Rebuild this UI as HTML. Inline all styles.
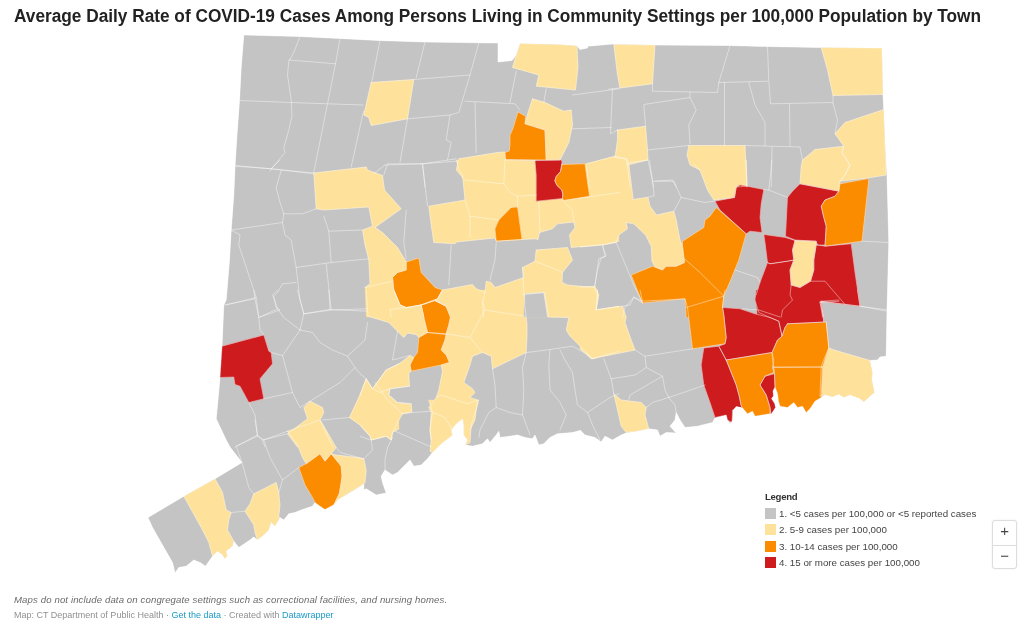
<!DOCTYPE html>
<html><head><meta charset="utf-8">
<style>
html,body{margin:0;padding:0;background:#fff;}
body{width:1036px;height:628px;position:relative;overflow:hidden;font-family:"Liberation Sans",sans-serif;color:#333;}
h1{position:absolute;left:14px;top:4.5px;margin:0;font-size:17.6px;font-weight:bold;color:#222;white-space:nowrap;letter-spacing:0;line-height:22px;transform-origin:0 0;transform:scaleX(0.980);}
svg#map{position:absolute;left:0;top:0;}
.legend{position:absolute;left:765px;top:490.5px;font-size:9.75px;color:#444;}
.legend .t{font-weight:bold;color:#333;font-size:9.6px;letter-spacing:-0.3px;line-height:12px;margin-bottom:3px;}
.legend .r{height:16.6px;line-height:16px;white-space:nowrap;position:relative;padding-left:14px;}
.legend .r i{position:absolute;left:0;top:2px;width:11px;height:11px;display:block;}
.zoom{position:absolute;left:992px;top:520px;width:23px;height:47px;border:1px solid #ddd;border-radius:3px;background:#fff;box-shadow:0 0 2px rgba(0,0,0,.08);}
.zoom div{height:23.5px;line-height:19.5px;padding-left:0.5px;text-align:center;font-size:15px;color:#444;}
.zoom div+div{border-top:1px solid #ddd;}
.note{position:absolute;left:14px;top:594px;font-size:9.6px;letter-spacing:0.12px;font-style:italic;color:#6a6a6a;white-space:nowrap;}
.foot{position:absolute;left:14px;top:610px;font-size:9px;color:#909090;white-space:nowrap;}
.foot a{color:#1a9bc7;text-decoration:none;}
</style></head><body>
<h1>Average Daily Rate of COVID-19 Cases Among Persons Living in Community Settings per 100,000 Population by Town</h1>
<svg id="map" width="1036" height="628" viewBox="0 0 1036 628">
<defs><clipPath id="st"><polygon points="243.8,35.0 241.2,67.5 239.5,100.5 237.0,135.0 235.0,166.2 233.8,195.0 231.2,230.0 229.5,260.0 226.2,300.0 223.8,305.0 222.0,346.2 220.0,377.5 218.0,400.0 216.2,418.8 226.2,440.0 230.0,447.0 242.0,462.5 215.0,478.8 183.8,496.2 148.0,517.5 152.5,527.5 172.5,562.5 175.0,573.0 178.8,567.5 186.2,566.2 193.8,560.0 200.0,562.5 205.5,566.2 212.5,556.2 217.5,551.2 222.5,555.0 224.5,558.8 227.5,556.2 226.2,551.2 232.5,546.2 233.8,541.2 238.8,547.5 242.5,545.0 250.0,540.0 253.8,537.0 257.5,540.0 263.8,535.0 268.8,530.0 271.2,522.5 275.0,526.2 280.0,517.5 283.8,520.0 288.8,513.8 295.0,512.5 301.2,510.0 312.5,506.2 315.0,502.5 320.0,506.2 325.0,509.5 334.0,505.0 338.0,499.5 340.8,498.0 347.5,494.2 360.0,486.8 363.8,483.8 363.8,490.0 366.2,488.8 376.2,495.0 386.2,493.0 382.5,482.5 381.2,476.2 385.0,470.0 392.5,475.0 397.5,472.5 405.0,465.0 410.0,460.0 413.8,466.2 421.2,465.0 427.5,458.8 432.5,452.5 440.0,445.0 446.2,440.0 452.5,435.0 451.2,430.0 456.2,423.8 462.5,418.8 463.8,425.0 463.8,435.0 467.5,440.0 465.0,445.0 472.5,446.2 482.5,443.8 487.5,438.8 490.0,442.5 496.2,435.0 498.8,431.2 500.0,437.5 510.0,436.2 517.5,435.0 525.0,437.5 532.5,438.8 535.0,435.0 538.8,445.0 543.8,443.8 550.0,437.5 557.5,433.8 572.5,432.5 580.0,430.5 580.0,430.0 585.0,435.0 595.0,437.5 601.2,442.0 605.0,436.2 612.5,440.0 621.2,435.0 626.2,433.0 637.5,431.2 648.8,428.8 657.5,430.0 660.0,436.2 666.2,432.5 676.2,433.0 670.0,426.2 675.0,420.0 676.2,412.5 680.0,420.0 685.0,427.5 697.5,426.2 712.5,422.5 715.0,418.0 726.2,415.0 727.5,420.0 730.0,423.8 732.5,420.0 733.0,410.0 736.2,406.2 742.5,407.5 747.5,413.8 752.5,411.2 755.0,416.2 770.0,413.8 771.0,414.0 773.0,411.5 775.5,407.5 774.8,403.8 771.5,398.5 773.5,396.0 773.0,391.0 775.0,387.0 777.5,393.5 778.5,401.2 780.0,406.2 787.5,407.5 793.8,402.5 797.5,407.5 802.5,406.2 806.2,412.5 810.0,408.8 815.0,401.2 821.2,397.5 821.2,397.5 825.0,395.0 832.5,397.0 838.8,394.5 843.8,397.5 850.0,395.0 860.0,398.8 863.8,402.0 868.8,397.5 874.5,392.5 872.0,380.0 872.5,372.5 870.0,360.5 877.5,360.0 880.0,357.0 886.2,356.2 887.0,311.2 888.8,242.5 887.0,175.0 885.0,142.5 883.8,110.0 883.0,94.5 882.0,48.0 821.2,47.5 767.5,46.5 728.8,45.5 655.0,45.0 612.5,44.0 587.5,46.2 587.5,48.0 580.0,49.5 577.0,45.8 560.0,44.5 520.0,43.5 518.0,49.5 516.2,55.0 512.0,60.5 498.0,62.0 498.0,43.0 478.8,42.8 425.0,42.0 378.8,40.5 340.0,38.5 300.0,36.5"/></clipPath></defs>
<g clip-path="url(#st)">
<polygon points="243.8,35.0 241.2,67.5 239.5,100.5 237.0,135.0 235.0,166.2 233.8,195.0 231.2,230.0 229.5,260.0 226.2,300.0 223.8,305.0 222.0,346.2 220.0,377.5 218.0,400.0 216.2,418.8 226.2,440.0 230.0,447.0 242.0,462.5 215.0,478.8 183.8,496.2 148.0,517.5 152.5,527.5 172.5,562.5 175.0,573.0 178.8,567.5 186.2,566.2 193.8,560.0 200.0,562.5 205.5,566.2 212.5,556.2 217.5,551.2 222.5,555.0 224.5,558.8 227.5,556.2 226.2,551.2 232.5,546.2 233.8,541.2 238.8,547.5 242.5,545.0 250.0,540.0 253.8,537.0 257.5,540.0 263.8,535.0 268.8,530.0 271.2,522.5 275.0,526.2 280.0,517.5 283.8,520.0 288.8,513.8 295.0,512.5 301.2,510.0 312.5,506.2 315.0,502.5 320.0,506.2 325.0,509.5 334.0,505.0 338.0,499.5 340.8,498.0 347.5,494.2 360.0,486.8 363.8,483.8 363.8,490.0 366.2,488.8 376.2,495.0 386.2,493.0 382.5,482.5 381.2,476.2 385.0,470.0 392.5,475.0 397.5,472.5 405.0,465.0 410.0,460.0 413.8,466.2 421.2,465.0 427.5,458.8 432.5,452.5 440.0,445.0 446.2,440.0 452.5,435.0 451.2,430.0 456.2,423.8 462.5,418.8 463.8,425.0 463.8,435.0 467.5,440.0 465.0,445.0 472.5,446.2 482.5,443.8 487.5,438.8 490.0,442.5 496.2,435.0 498.8,431.2 500.0,437.5 510.0,436.2 517.5,435.0 525.0,437.5 532.5,438.8 535.0,435.0 538.8,445.0 543.8,443.8 550.0,437.5 557.5,433.8 572.5,432.5 580.0,430.5 580.0,430.0 585.0,435.0 595.0,437.5 601.2,442.0 605.0,436.2 612.5,440.0 621.2,435.0 626.2,433.0 637.5,431.2 648.8,428.8 657.5,430.0 660.0,436.2 666.2,432.5 676.2,433.0 670.0,426.2 675.0,420.0 676.2,412.5 680.0,420.0 685.0,427.5 697.5,426.2 712.5,422.5 715.0,418.0 726.2,415.0 727.5,420.0 730.0,423.8 732.5,420.0 733.0,410.0 736.2,406.2 742.5,407.5 747.5,413.8 752.5,411.2 755.0,416.2 770.0,413.8 771.0,414.0 773.0,411.5 775.5,407.5 774.8,403.8 771.5,398.5 773.5,396.0 773.0,391.0 775.0,387.0 777.5,393.5 778.5,401.2 780.0,406.2 787.5,407.5 793.8,402.5 797.5,407.5 802.5,406.2 806.2,412.5 810.0,408.8 815.0,401.2 821.2,397.5 821.2,397.5 825.0,395.0 832.5,397.0 838.8,394.5 843.8,397.5 850.0,395.0 860.0,398.8 863.8,402.0 868.8,397.5 874.5,392.5 872.0,380.0 872.5,372.5 870.0,360.5 877.5,360.0 880.0,357.0 886.2,356.2 887.0,311.2 888.8,242.5 887.0,175.0 885.0,142.5 883.8,110.0 883.0,94.5 882.0,48.0 821.2,47.5 767.5,46.5 728.8,45.5 655.0,45.0 612.5,44.0 587.5,46.2 587.5,48.0 580.0,49.5 577.0,45.8 560.0,44.5 520.0,43.5 518.0,49.5 516.2,55.0 512.0,60.5 498.0,62.0 498.0,43.0 478.8,42.8 425.0,42.0 378.8,40.5 340.0,38.5 300.0,36.5" fill="#c4c4c4" stroke="#fff" stroke-width="0.5" stroke-linejoin="round"/>
<g fill="#fee29b" stroke="#fee29b" stroke-width="0.3">
<polygon points="520.0,43.5 560.0,44.5 577.0,45.8 578.0,67.5 575.5,90.0 536.2,86.2 538.8,75.0 512.5,67.5 516.2,55.0 518.0,49.5"/>
<polygon points="532.5,98.8 545.0,102.5 563.8,111.2 571.2,110.0 572.5,125.0 568.8,142.5 560.0,160.0 546.2,160.0 545.0,130.0 525.0,123.8 528.8,110.0"/>
<polygon points="371.2,82.5 413.8,79.5 407.5,118.8 371.2,125.5 368.8,117.5 363.8,115.0"/>
<polygon points="613.8,44.5 655.0,45.0 652.5,83.8 620.0,88.0 617.5,75.0"/>
<polygon points="617.5,130.0 645.5,126.2 647.5,150.0 648.0,160.0 627.5,165.0 626.2,158.8 615.0,157.5 617.5,140.0"/>
<polygon points="588.8,187.0 586.2,163.8 615.0,156.2 626.2,158.8 627.5,165.0 630.0,187.0"/>
<polygon points="700.0,170.0 690.0,165.0 687.0,155.0 688.8,145.5 745.0,145.5 747.0,187.0 707.5,187.0"/>
<polygon points="821.2,47.5 882.0,48.0 883.0,94.5 833.0,95.5 827.5,70.0"/>
<polygon points="883.8,109.5 845.0,122.5 835.0,133.8 843.8,146.2 842.0,152.5 850.0,165.0 845.0,175.0 840.0,181.2 867.5,178.0 886.2,175.0 885.0,142.5"/>
<polygon points="815.0,149.5 843.8,146.2 842.0,152.5 850.0,165.0 845.0,175.0 840.0,181.2 838.8,191.2 800.0,183.8 801.2,166.2 802.5,160.0 810.0,153.8"/>
<polygon points="462.5,177.5 456.2,170.0 458.8,158.8 497.5,152.5 504.8,152.0 505.5,160.0 535.0,160.5 538.0,187.0 465.0,187.0"/>
<polygon points="456.2,160.0 458.8,168.8 462.5,175.0 465.0,200.0 428.8,206.2 431.2,225.0 433.8,242.5 455.0,243.8 456.2,242.0 495.0,238.0 496.2,241.2 522.0,239.5 535.0,238.8 538.0,239.5 539.5,232.5 552.5,228.8 557.5,223.8 573.8,222.0 575.0,227.5 569.5,235.0 571.2,247.5 603.8,244.5 619.0,241.2 619.0,155.0 586.2,164.0 585.0,165.0 561.5,165.5"/>
<polygon points="536.2,250.0 567.5,247.5 572.5,260.0 562.5,272.5 562.0,282.5 567.5,285.0 593.8,287.5 597.5,295.0 596.2,310.0 619.0,306.2 619.0,317.0 450.5,317.0 446.2,306.2 435.0,300.5 437.5,298.8 442.5,290.0 472.5,284.5 476.2,288.8 485.0,292.5 486.2,281.2 491.2,282.5 495.0,287.5 523.8,277.5 522.5,267.5 535.0,261.2"/>
<polygon points="313.8,173.0 366.2,167.0 367.5,170.0 382.5,175.5 384.5,190.0 401.2,208.8 375.0,227.5 382.5,232.5 397.5,247.5 406.2,262.0 406.2,270.0 397.5,272.5 392.5,277.5 393.8,290.0 400.0,305.0 406.2,307.5 421.2,305.0 423.8,317.0 366.2,317.0 365.0,287.5 370.0,283.8 368.8,260.0 365.0,245.0 362.5,230.0 372.5,226.2 368.8,207.0 323.8,210.0 316.2,208.8"/>
<polygon points="627.5,160.0 628.8,163.8 633.2,199.5 648.0,197.2 650.0,206.2 656.5,215.0 673.8,211.2 676.2,220.0 680.0,240.0 682.5,246.2 684.5,262.5 676.2,266.2 666.2,266.2 662.5,270.0 655.0,267.0 652.0,261.2 651.2,246.2 645.5,235.0 633.8,223.8 626.2,222.5 627.5,228.8 618.8,235.0 616.2,242.5 602.5,245.0 580.0,247.0 580.0,164.5 586.2,164.0"/>
<polygon points="693.8,163.8 700.0,170.0 707.5,190.0 713.8,200.0 734.5,197.5 736.2,187.0 747.0,186.2 746.2,160.0 690.0,160.0"/>
<polygon points="795.0,240.5 816.2,241.2 816.2,245.0 813.8,260.0 813.8,270.0 810.5,281.2 800.0,287.5 791.2,285.0 790.0,270.0 793.8,260.0 792.5,250.0"/>
<polygon points="580.0,287.0 595.0,286.2 598.8,295.0 596.2,310.0 580.0,312.5"/>
<polygon points="399.0,363.8 386.2,370.0 372.5,388.8 366.2,378.8 360.0,395.0 349.5,417.5 360.0,425.0 370.0,436.2 371.2,440.0 386.2,436.2 391.2,440.0 392.5,432.5 399.0,428.8"/>
<polygon points="332.5,447.0 320.0,420.0 323.8,412.5 322.5,407.5 310.0,401.2 303.8,407.5 307.5,418.8 287.5,433.8 297.5,447.0"/>
<polygon points="393.8,290.0 400.0,305.0 406.2,308.0 421.2,305.0 423.8,317.5 427.5,332.5 418.8,337.5 416.2,334.5 407.5,333.0 403.8,337.5 397.5,331.2 388.8,322.5 368.0,316.2 366.2,290.0"/>
<polygon points="366.2,378.8 372.5,388.8 386.2,370.0 399.0,363.8 410.0,355.5 413.8,357.5 410.0,365.0 411.2,371.2 408.8,373.0 409.5,386.2 390.0,388.8 388.8,395.0 397.5,402.5 411.2,403.8 412.0,412.0 402.5,413.8 397.5,422.5 392.5,432.5 391.2,440.0 386.2,436.2 371.2,440.0 370.0,436.2 360.0,425.0 349.5,417.5 360.0,395.0"/>
<polygon points="442.5,290.0 437.5,298.8 435.0,300.5 446.2,306.2 450.5,317.0 448.8,325.0 446.2,333.8 445.0,340.0 441.2,350.0 446.2,355.0 449.5,362.5 441.2,365.0 442.5,371.2 438.8,390.0 436.2,397.5 428.8,407.5 431.2,412.5 430.0,430.0 431.2,440.0 467.5,440.0 470.0,430.0 475.0,420.0 477.5,400.0 470.0,397.5 475.0,392.5 472.5,388.8 463.8,382.5 470.0,365.0 472.5,356.2 482.5,352.5 491.2,356.2 492.5,368.8 526.2,352.5 527.0,336.2 527.0,323.8 525.0,307.5 524.5,294.5 544.5,292.5 548.8,317.0 568.8,317.5 566.2,330.0 570.0,336.2 592.5,358.8 619.0,351.2 619.0,306.2 596.2,310.0 597.5,295.0 597.5,290.0"/>
<polygon points="597.5,309.5 622.5,306.2 626.2,317.5 625.0,322.5 631.2,340.0 635.0,350.0 591.2,358.8 580.0,348.8 580.0,313.8"/>
<polygon points="613.8,393.8 621.2,400.0 641.2,402.5 646.2,407.5 645.0,415.0 648.8,428.8 637.5,431.2 626.2,432.5 621.2,426.2 617.5,410.0"/>
<polygon points="828.8,348.0 832.5,349.5 870.0,360.5 872.5,372.5 872.0,380.0 874.5,392.5 868.8,397.5 863.8,402.0 860.0,398.8 850.0,395.0 843.8,397.5 838.8,394.5 832.5,397.0 825.0,395.0 820.0,396.2 821.2,367.0 822.5,362.5"/>
<polygon points="183.8,496.2 215.0,478.8 222.5,492.5 226.2,510.0 231.2,512.5 228.8,520.0 227.5,530.0 233.8,541.2 232.5,546.2 226.2,551.2 227.5,556.2 224.5,558.8 222.5,555.0 217.5,551.2 212.5,556.2 208.8,542.5 202.5,530.0"/>
<polygon points="253.8,493.8 276.2,482.5 278.8,492.5 280.0,505.0 278.8,516.2 280.0,518.8 275.0,526.2 271.2,522.5 268.8,530.0 263.8,535.0 257.5,540.0 255.0,532.5 253.8,525.0 245.0,511.2 250.0,503.8"/>
<polygon points="287.5,431.2 320.0,420.0 322.5,423.8 336.2,447.5 331.2,453.8 325.0,461.2 320.0,453.8 306.2,463.8 302.5,457.5 297.5,445.0"/>
<polygon points="331.2,453.8 336.2,455.0 357.5,457.5 363.8,458.8 366.2,470.0 365.0,482.5 363.8,483.8 360.0,486.2 347.5,493.8 340.0,498.8 334.0,504.5 339.2,493.8 341.0,483.8 342.0,476.2 341.2,466.2"/>
<polygon points="428.8,400.0 432.5,412.5 430.0,430.0 431.2,440.0 430.0,451.2 432.5,452.5 440.0,445.0 446.2,440.0 452.5,435.0 451.2,430.0 456.2,423.8 462.5,418.8 463.8,425.0 463.8,435.0 467.5,440.0 465.0,445.0 470.0,442.5 471.2,425.0 477.5,405.0 478.8,400.0"/>
</g>
<g fill="#c4c4c4" stroke="#c4c4c4" stroke-width="0.3">
<polygon points="525.0,293.8 543.8,292.5 547.5,317.0 523.8,317.0"/>
<polygon points="409.5,386.2 390.0,388.8 388.8,395.0 397.5,402.5 411.2,403.8"/>
</g>
<g fill="#fb8c00" stroke="#fb8c00" stroke-width="0.3">
<polygon points="518.0,112.0 525.5,116.2 525.0,123.8 545.0,130.0 546.2,160.0 505.5,159.5 504.8,152.5 509.2,151.0 510.0,144.8 510.0,135.5 513.2,127.8 515.5,120.0"/>
<polygon points="562.0,164.5 585.0,163.8 589.5,196.2 563.8,200.5 562.5,198.5 562.8,194.0 561.8,190.0 557.0,185.5 554.8,180.8 556.2,176.5 560.5,171.5"/>
<polygon points="511.2,207.5 517.5,207.0 522.0,239.5 496.2,241.2 495.0,228.8 498.8,220.0"/>
<polygon points="406.2,262.0 418.8,258.0 421.2,272.5 435.0,287.5 442.5,290.0 437.5,298.8 421.2,305.0 406.2,307.5 400.0,305.0 393.8,290.0 392.5,277.5 397.5,272.5 406.2,270.0"/>
<polygon points="421.2,305.0 435.0,300.5 446.2,306.2 450.5,317.0 423.8,317.0"/>
<polygon points="722.5,307.5 723.8,296.2 731.2,278.8 738.8,260.0 746.2,233.8 716.2,207.5 710.0,216.2 705.0,220.0 703.8,227.5 682.5,241.2 682.5,246.2 684.5,262.5 676.2,266.2 666.2,266.2 662.5,270.0 655.0,267.0 652.5,266.2 631.2,275.0 642.5,303.0 685.0,298.8 686.2,317.0 723.8,317.0"/>
<polygon points="840.0,183.8 867.5,178.8 868.8,180.0 862.0,241.2 825.0,246.2 826.2,226.2 823.8,217.5 821.2,206.2 825.0,200.0 835.0,196.2 838.8,191.2"/>
<polygon points="393.8,290.0 400.0,305.0 406.2,307.5 421.2,305.0 437.5,298.8 442.5,290.0"/>
<polygon points="421.2,305.0 435.0,300.5 446.2,306.2 450.5,317.0 448.8,325.0 446.2,333.8 427.5,332.5 423.8,317.5"/>
<polygon points="427.5,332.5 446.2,334.5 445.0,340.0 441.2,350.0 446.2,355.0 449.5,362.5 441.2,365.0 411.2,371.2 410.0,365.0 413.8,357.5 417.5,352.5 418.8,337.5"/>
<polygon points="640.0,290.0 642.5,301.2 685.0,298.8 687.5,307.5 692.5,348.8 725.0,343.8 726.2,337.5 723.8,315.0 722.5,306.2 723.8,296.2 725.0,290.0"/>
<polygon points="726.2,360.0 772.0,352.5 773.8,360.0 772.5,367.5 773.8,372.5 765.0,376.2 760.0,385.0 766.2,395.0 770.0,407.5 770.0,413.8 755.0,416.2 752.5,411.2 747.5,413.8 742.5,408.8 741.0,405.0 739.2,396.0 736.2,385.0"/>
<polygon points="787.5,323.8 826.2,322.0 828.8,347.5 822.5,367.0 773.8,367.2 772.5,360.0 772.0,352.5 777.5,340.0 782.0,336.2 785.0,327.5"/>
<polygon points="773.8,367.2 822.5,367.0 821.2,397.5 815.0,401.2 810.0,408.8 806.2,412.5 802.5,406.2 797.5,407.5 793.8,402.5 787.5,407.5 780.0,406.2 778.5,401.2 777.5,393.5 775.0,387.0 774.5,373.8"/>
<polygon points="298.8,467.5 306.2,463.8 320.0,453.8 325.0,461.2 331.2,453.8 341.2,466.2 342.0,476.2 341.0,483.8 339.2,493.8 334.0,504.5 325.0,509.5 320.0,506.2 315.0,502.5 312.5,497.5 305.0,485.0"/>
</g>
<g fill="#ce1b1e" stroke="#ce1b1e" stroke-width="0.3">
<polygon points="535.0,160.5 561.5,160.0 562.0,162.2 560.5,171.5 556.2,176.5 554.8,180.8 557.0,185.5 561.8,190.0 562.8,194.0 562.5,198.5 536.2,201.2 536.2,175.0"/>
<polygon points="715.0,201.2 734.5,197.5 736.2,187.5 740.0,185.0 747.0,186.2 763.8,189.5 761.2,203.8 760.0,217.5 762.0,232.5 750.0,231.2 746.2,233.8 720.0,210.0"/>
<polygon points="763.8,234.5 785.5,237.5 795.0,240.5 792.5,250.0 793.8,260.0 787.5,261.2 770.0,263.8 767.5,262.5 765.0,242.5"/>
<polygon points="800.0,183.8 838.8,191.2 835.0,196.2 825.0,200.0 821.2,206.2 823.8,217.5 826.2,226.2 825.0,245.0 817.5,245.0 816.2,241.2 795.0,240.0 785.5,236.2 787.5,197.5 792.5,191.2"/>
<polygon points="817.5,245.0 825.0,246.2 851.2,243.8 855.0,272.5 860.0,306.2 845.0,304.5 820.0,301.2 822.5,317.0 757.5,317.0 756.2,295.0 760.0,282.5 767.5,262.5 770.0,263.8 787.5,261.2 793.8,260.0 790.0,270.0 791.2,285.0 800.0,287.5 810.5,281.2 813.8,270.0 813.8,260.0 816.2,245.0"/>
<polygon points="222.0,346.2 263.8,335.0 268.8,351.2 271.2,352.5 272.5,363.8 260.0,378.8 263.8,398.8 248.8,402.5 240.0,386.2 235.0,384.5 233.8,377.0 220.0,377.5"/>
<polygon points="756.2,290.0 755.0,300.0 758.8,312.5 770.0,317.5 778.8,321.2 782.0,336.2 785.0,327.5 787.5,323.8 823.8,322.0 821.2,301.2 839.0,300.0 839.0,290.0"/>
<polygon points="722.5,307.5 740.0,308.8 755.0,313.8 770.0,317.5 778.8,321.2 782.0,336.2 777.5,340.0 772.0,352.5 726.2,360.0 718.8,346.2 725.0,343.8 726.2,337.5 723.8,315.0"/>
<polygon points="703.8,348.0 718.8,346.2 726.2,360.0 736.2,385.0 739.2,396.0 741.0,405.0 742.5,408.8 732.5,410.0 732.0,422.5 727.5,420.0 726.2,415.0 715.0,417.5 710.0,402.5 703.8,385.0 701.2,365.0"/>
<polygon points="765.0,376.2 774.5,373.8 775.0,387.0 773.0,391.0 773.5,396.0 771.5,398.5 774.8,403.8 775.5,407.5 773.0,411.5 771.0,414.0 770.0,407.5 766.2,395.0 760.0,385.0"/>
<polygon points="857.5,290.0 860.0,306.2 821.2,301.2 823.8,322.0 790.0,322.0 790.0,290.0"/>
</g>
<g fill="none" stroke="#fff" stroke-opacity="0.5" stroke-width="0.85" stroke-linejoin="round" stroke-linecap="round">
<polyline points="300.0,36.5 293.8,52.5 288.8,61.2 287.5,75.0 291.2,100.0 292.0,116.2 288.8,130.0 283.8,147.5 285.0,152.5 272.5,167.5 270.0,171.2"/>
<polyline points="288.8,60.0 335.5,63.8"/>
<polyline points="340.0,38.5 335.5,63.8 327.5,103.8 313.8,172.5"/>
<polyline points="380.0,40.5 371.8,82.0"/>
<polyline points="363.5,111.2 351.2,167.0"/>
<polyline points="239.5,100.5 291.2,102.5 327.5,103.8 363.2,105.0"/>
<polyline points="235.0,166.2 271.2,168.8 313.8,173.8"/>
<polyline points="520.0,43.5 560.0,44.5 577.0,45.8 578.0,67.5 575.5,90.0 536.2,86.2 538.8,75.0 512.5,67.5 516.2,55.0 518.0,49.5 520.0,43.5"/>
<polyline points="532.5,98.8 545.0,102.5 563.8,111.2 571.2,110.0 572.5,125.0 568.8,142.5 560.0,160.0 546.2,160.0 545.0,130.0 525.0,123.8 528.8,110.0 532.5,98.8"/>
<polyline points="518.0,112.0 525.5,116.2 525.0,123.8 545.0,130.0 546.2,160.0 505.5,159.5 504.8,152.5 509.2,151.0 510.0,144.8 510.0,135.5 513.2,127.8 515.5,120.0 518.0,112.0"/>
<polyline points="371.2,82.5 413.8,79.5 407.5,118.8 371.2,125.5 368.8,117.5 363.8,115.0 371.2,82.5"/>
<polyline points="425.0,42.0 416.2,77.5"/>
<polyline points="478.8,43.0 470.0,75.0 458.8,112.5 450.0,115.0 446.2,140.0 451.2,142.5 447.5,160.0"/>
<polyline points="413.8,79.5 470.0,75.0"/>
<polyline points="407.5,118.8 450.0,115.0"/>
<polyline points="407.5,118.8 400.0,162.5"/>
<polyline points="465.0,101.2 515.0,103.8 520.0,110.0"/>
<polyline points="475.0,102.5 476.2,152.5"/>
<polyline points="383.8,175.0 387.5,163.8 422.5,163.8 456.2,158.8"/>
<polyline points="422.5,163.8 425.0,187.0"/>
<polyline points="516.2,71.2 510.0,102.5"/>
<polyline points="546.2,88.8 543.8,102.5"/>
<polyline points="572.5,95.0 619.0,88.8"/>
<polyline points="572.5,128.8 611.2,127.5"/>
<polyline points="613.8,44.5 655.0,45.0 652.5,83.8 620.0,88.0 617.5,75.0 613.8,44.5"/>
<polyline points="617.5,130.0 645.5,126.2 647.5,150.0 648.0,160.0 627.5,165.0 626.2,158.8 615.0,157.5 617.5,140.0 617.5,130.0"/>
<polyline points="588.8,187.0 586.2,163.8 615.0,156.2 626.2,158.8 627.5,165.0 630.0,187.0"/>
<polyline points="700.0,170.0 690.0,165.0 687.0,155.0 688.8,145.5 745.0,145.5 747.0,187.0"/>
<polyline points="608.5,89.2 612.5,88.8 620.0,88.0"/>
<polyline points="612.5,88.8 610.5,133.8 617.5,130.0"/>
<polyline points="652.5,83.8 652.5,91.2 717.5,92.5 718.8,82.5 767.5,81.2"/>
<polyline points="730.0,45.5 718.8,82.5"/>
<polyline points="767.5,46.5 768.8,81.2 770.5,103.8 832.5,102.5"/>
<polyline points="690.0,92.0 690.0,97.5 643.8,104.5 645.5,126.2"/>
<polyline points="690.0,97.5 696.2,110.0 688.8,125.0 690.0,143.8"/>
<polyline points="647.5,150.0 688.8,145.5"/>
<polyline points="724.5,82.5 724.5,145.0"/>
<polyline points="748.8,82.5 755.0,105.0 765.0,122.5 765.0,145.5"/>
<polyline points="745.0,145.5 800.0,147.0 802.5,160.0"/>
<polyline points="789.5,103.8 790.0,146.2"/>
<polyline points="772.0,147.0 771.2,187.0"/>
<polyline points="630.0,162.5 648.0,160.0 653.8,187.0"/>
<polyline points="655.0,181.2 672.5,180.0 676.2,187.0"/>
<polyline points="821.2,47.5 882.0,48.0 883.0,94.5 833.0,95.5 827.5,70.0 821.2,47.5"/>
<polyline points="883.8,109.5 845.0,122.5 835.0,133.8 843.8,146.2 842.0,152.5 850.0,165.0 845.0,175.0 840.0,181.2 867.5,178.0 886.2,175.0 885.0,142.5 883.8,109.5"/>
<polyline points="815.0,149.5 843.8,146.2 842.0,152.5 850.0,165.0 845.0,175.0 840.0,181.2 838.8,191.2 800.0,183.8 801.2,166.2 802.5,160.0 810.0,153.8 815.0,149.5"/>
<polyline points="833.0,103.0 833.0,95.5"/>
<polyline points="833.0,103.0 837.5,120.0 835.0,133.8"/>
<polyline points="235.0,165.5 271.2,168.8 313.8,173.0"/>
<polyline points="271.2,168.8 280.0,160.0"/>
<polyline points="281.2,170.5 276.2,187.5 280.0,202.5 283.8,213.8 302.5,213.8 316.2,208.8"/>
<polyline points="231.2,230.0 282.5,222.5 283.8,213.8"/>
<polyline points="282.5,222.5 285.0,235.0 291.2,240.0 296.2,267.5 300.0,300.0 303.8,313.8"/>
<polyline points="231.2,230.0 240.0,235.0 238.8,245.0 256.2,297.5 258.8,317.0"/>
<polyline points="226.2,305.0 256.2,297.5"/>
<polyline points="323.8,216.2 328.8,231.2 331.2,262.5"/>
<polyline points="328.8,231.2 362.5,230.0"/>
<polyline points="296.2,267.5 331.2,262.5 368.8,258.8"/>
<polyline points="326.2,263.8 331.2,310.0"/>
<polyline points="303.8,313.8 331.2,310.0 366.2,308.8"/>
<polyline points="296.2,282.5 282.5,283.8 277.5,292.5 273.8,296.2 276.2,307.5 280.0,310.0 260.0,317.0"/>
<polyline points="462.5,177.5 456.2,170.0 458.8,158.8 497.5,152.5 504.8,152.0 505.5,160.0 535.0,160.5"/>
<polyline points="456.2,160.0 458.8,168.8 462.5,175.0 465.0,200.0 428.8,206.2 431.2,225.0 433.8,242.5 455.0,243.8 456.2,242.0 495.0,238.0 496.2,241.2 522.0,239.5 535.0,238.8 538.0,239.5 539.5,232.5 552.5,228.8 557.5,223.8 573.8,222.0 575.0,227.5 569.5,235.0 571.2,247.5 603.8,244.5 619.0,241.2"/>
<polyline points="536.2,250.0 567.5,247.5 572.5,260.0 562.5,272.5 562.0,282.5 567.5,285.0 593.8,287.5 597.5,295.0 596.2,310.0 619.0,306.2"/>
<polyline points="446.2,306.2 435.0,300.5 437.5,298.8 442.5,290.0 472.5,284.5 476.2,288.8 485.0,292.5 486.2,281.2 491.2,282.5 495.0,287.5 523.8,277.5 522.5,267.5 535.0,261.2 536.2,250.0"/>
<polyline points="525.0,293.8 543.8,292.5 547.5,317.0"/>
<polyline points="313.8,173.0 366.2,167.0 367.5,170.0 382.5,175.5 384.5,190.0 401.2,208.8 375.0,227.5 382.5,232.5 397.5,247.5 406.2,262.0 406.2,270.0 397.5,272.5 392.5,277.5 393.8,290.0 400.0,305.0 406.2,307.5 421.2,305.0 423.8,317.0"/>
<polyline points="365.0,287.5 370.0,283.8 368.8,260.0 365.0,245.0 362.5,230.0 372.5,226.2 368.8,207.0 323.8,210.0 316.2,208.8 313.8,173.0"/>
<polyline points="535.0,160.5 561.5,160.0 562.0,162.2 560.5,171.5 556.2,176.5 554.8,180.8 557.0,185.5 561.8,190.0 562.8,194.0 562.5,198.5 536.2,201.2 536.2,175.0 535.0,160.5"/>
<polyline points="562.0,164.5 585.0,163.8 589.5,196.2 563.8,200.5 562.5,198.5 562.8,194.0 561.8,190.0 557.0,185.5 554.8,180.8 556.2,176.5 560.5,171.5 562.0,164.5"/>
<polyline points="511.2,207.5 517.5,207.0 522.0,239.5 496.2,241.2 495.0,228.8 498.8,220.0 511.2,207.5"/>
<polyline points="406.2,262.0 418.8,258.0 421.2,272.5 435.0,287.5 442.5,290.0 437.5,298.8 421.2,305.0 406.2,307.5 400.0,305.0 393.8,290.0 392.5,277.5 397.5,272.5 406.2,270.0 406.2,262.0"/>
<polyline points="421.2,305.0 435.0,300.5 446.2,306.2 450.5,317.0"/>
<polyline points="385.0,165.0 373.8,173.8"/>
<polyline points="422.5,163.8 427.5,206.2"/>
<polyline points="385.0,165.0 422.5,163.8 456.2,161.2"/>
<polyline points="406.2,210.0 403.8,242.5 406.2,258.8"/>
<polyline points="451.2,245.0 448.8,285.0"/>
<polyline points="496.2,242.5 495.0,260.0 490.0,280.0"/>
<polyline points="602.5,245.5 605.0,256.2 601.2,257.8 597.5,270.0 594.5,287.0"/>
<polyline points="465.0,180.0 503.8,183.8 505.0,160.0"/>
<polyline points="503.8,183.8 510.0,192.5 517.5,196.2 517.5,207.0"/>
<polyline points="517.5,196.2 536.2,195.0"/>
<polyline points="465.0,200.0 470.0,216.2 470.0,237.5"/>
<polyline points="470.0,216.2 498.8,220.0"/>
<polyline points="538.8,202.0 540.0,232.5"/>
<polyline points="562.0,200.0 572.5,210.0 573.8,222.0"/>
<polyline points="564.5,200.5 619.0,192.5"/>
<polyline points="522.5,267.5 523.8,295.0"/>
<polyline points="535.0,261.2 557.5,270.0 562.5,272.5"/>
<polyline points="485.0,292.5 482.5,302.5 483.8,317.0"/>
<polyline points="365.0,287.5 392.5,281.2"/>
<polyline points="406.2,307.5 390.0,309.5 391.2,317.0"/>
<polyline points="627.5,160.0 628.8,163.8 633.2,199.5 648.0,197.2 650.0,206.2 656.5,215.0 673.8,211.2 676.2,220.0 680.0,240.0 682.5,246.2 684.5,262.5 676.2,266.2 666.2,266.2 662.5,270.0 655.0,267.0 652.0,261.2 651.2,246.2 645.5,235.0 633.8,223.8 626.2,222.5 627.5,228.8 618.8,235.0 616.2,242.5 602.5,245.0 580.0,247.0"/>
<polyline points="693.8,163.8 700.0,170.0 707.5,190.0 713.8,200.0 734.5,197.5 736.2,187.0 747.0,186.2 746.2,160.0"/>
<polyline points="715.0,201.2 734.5,197.5 736.2,187.5 740.0,185.0 747.0,186.2 763.8,189.5 761.2,203.8 760.0,217.5 762.0,232.5 750.0,231.2 746.2,233.8 720.0,210.0 715.0,201.2"/>
<polyline points="722.5,307.5 723.8,296.2 731.2,278.8 738.8,260.0 746.2,233.8 716.2,207.5 710.0,216.2 705.0,220.0 703.8,227.5 682.5,241.2 682.5,246.2 684.5,262.5 676.2,266.2 666.2,266.2 662.5,270.0 655.0,267.0 652.5,266.2 631.2,275.0 642.5,303.0 685.0,298.8 686.2,317.0"/>
<polyline points="763.8,234.5 785.5,237.5 795.0,240.5 792.5,250.0 793.8,260.0 787.5,261.2 770.0,263.8 767.5,262.5 765.0,242.5 763.8,234.5"/>
<polyline points="795.0,240.5 816.2,241.2 816.2,245.0 813.8,260.0 813.8,270.0 810.5,281.2 800.0,287.5 791.2,285.0 790.0,270.0 793.8,260.0 792.5,250.0 795.0,240.5"/>
<polyline points="580.0,287.0 595.0,286.2 598.8,295.0 596.2,310.0"/>
<polyline points="684.5,258.8 700.0,272.5 723.8,296.2 686.2,307.5"/>
<polyline points="649.5,160.0 652.5,181.2 673.8,181.2 681.2,197.5 673.8,211.2"/>
<polyline points="652.5,181.8 654.2,195.8 648.0,197.2"/>
<polyline points="681.2,197.5 705.0,202.5 713.8,201.2"/>
<polyline points="772.0,160.0 768.8,190.0 763.8,189.5"/>
<polyline points="768.8,190.0 787.5,197.5"/>
<polyline points="735.0,270.0 757.5,277.5 760.0,282.5"/>
<polyline points="602.5,245.0 606.2,256.2 598.8,258.8 595.0,285.0"/>
<polyline points="616.2,242.5 633.8,285.0 642.5,303.0"/>
<polyline points="633.8,297.0 625.0,307.5 622.5,317.0"/>
<polyline points="633.8,297.0 642.5,303.0"/>
<polyline points="742.5,308.8 758.8,310.0 780.0,317.0"/>
<polyline points="820.0,302.5 839.0,301.2"/>
<polyline points="820.0,302.5 823.8,317.0"/>
<polyline points="800.0,183.8 838.8,191.2 835.0,196.2 825.0,200.0 821.2,206.2 823.8,217.5 826.2,226.2 825.0,245.0 817.5,245.0 816.2,241.2 795.0,240.0 785.5,236.2 787.5,197.5 792.5,191.2 800.0,183.8"/>
<polyline points="840.0,183.8 867.5,178.8 868.8,180.0 862.0,241.2 825.0,246.2 826.2,226.2 823.8,217.5 821.2,206.2 825.0,200.0 835.0,196.2 838.8,191.2 840.0,183.8"/>
<polyline points="817.5,245.0 825.0,246.2 851.2,243.8 855.0,272.5 860.0,306.2 845.0,304.5 820.0,301.2 822.5,317.0"/>
<polyline points="756.2,295.0 760.0,282.5 767.5,262.5 770.0,263.8 787.5,261.2 793.8,260.0 790.0,270.0 791.2,285.0 800.0,287.5 810.5,281.2 813.8,270.0 813.8,260.0 816.2,245.0 817.5,245.0"/>
<polyline points="810.5,281.2 825.0,281.2 845.0,304.5"/>
<polyline points="791.2,285.0 790.0,295.0 792.5,300.0 782.5,310.0 781.2,317.0"/>
<polyline points="862.0,241.2 888.8,242.5"/>
<polyline points="860.0,306.2 888.0,310.0"/>
<polyline points="222.0,346.2 263.8,335.0 268.8,351.2 271.2,352.5 272.5,363.8 260.0,378.8 263.8,398.8 248.8,402.5 240.0,386.2 235.0,384.5 233.8,377.0 220.0,377.5 222.0,346.2"/>
<polyline points="399.0,363.8 386.2,370.0 372.5,388.8 366.2,378.8 360.0,395.0 349.5,417.5 360.0,425.0 370.0,436.2 371.2,440.0 386.2,436.2 391.2,440.0 392.5,432.5 399.0,428.8"/>
<polyline points="332.5,447.0 320.0,420.0 323.8,412.5 322.5,407.5 310.0,401.2 303.8,407.5 307.5,418.8 287.5,433.8 297.5,447.0"/>
<polyline points="223.8,305.0 255.0,298.8 253.8,290.0"/>
<polyline points="255.0,298.8 258.8,317.5 277.5,308.8 272.5,295.0 277.5,290.0"/>
<polyline points="258.8,317.5 260.0,330.0 263.8,335.0"/>
<polyline points="277.5,308.8 283.8,317.5 300.0,330.0 303.8,313.8 297.5,290.0"/>
<polyline points="303.8,313.8 330.0,309.5 328.8,290.0"/>
<polyline points="330.0,309.5 367.5,311.2"/>
<polyline points="300.0,330.0 282.5,355.5 271.2,352.5"/>
<polyline points="282.5,355.5 292.5,392.5 263.8,398.8"/>
<polyline points="292.5,392.5 300.0,407.5 310.0,401.2"/>
<polyline points="300.0,330.0 312.5,332.5 320.0,342.5 332.5,350.0 347.5,356.2 355.0,367.5 360.0,373.8 366.2,378.8"/>
<polyline points="367.5,322.5 365.0,340.0 347.5,356.2"/>
<polyline points="355.0,367.5 340.0,382.5 310.0,401.2"/>
<polyline points="248.8,402.5 255.0,415.0 257.5,435.0 262.5,440.0 265.0,447.0"/>
<polyline points="262.5,440.0 287.5,433.8"/>
<polyline points="257.5,435.0 235.0,447.0"/>
<polyline points="322.5,420.0 349.5,417.5"/>
<polyline points="393.8,290.0 400.0,305.0 406.2,308.0 421.2,305.0 423.8,317.5 427.5,332.5 418.8,337.5 416.2,334.5 407.5,333.0 403.8,337.5 397.5,331.2 388.8,322.5 368.0,316.2 366.2,290.0"/>
<polyline points="366.2,378.8 372.5,388.8 386.2,370.0 399.0,363.8 410.0,355.5 413.8,357.5 410.0,365.0 411.2,371.2 408.8,373.0 409.5,386.2 390.0,388.8 388.8,395.0 397.5,402.5 411.2,403.8 412.0,412.0 402.5,413.8 397.5,422.5 392.5,432.5 391.2,440.0 386.2,436.2 371.2,440.0 370.0,436.2 360.0,425.0"/>
<polyline points="360.0,395.0 366.2,378.8"/>
<polyline points="442.5,290.0 437.5,298.8 435.0,300.5 446.2,306.2 450.5,317.0 448.8,325.0 446.2,333.8 445.0,340.0 441.2,350.0 446.2,355.0 449.5,362.5 441.2,365.0 442.5,371.2 438.8,390.0 436.2,397.5 428.8,407.5 431.2,412.5 430.0,430.0 431.2,440.0"/>
<polyline points="470.0,430.0 475.0,420.0 477.5,400.0 470.0,397.5 475.0,392.5 472.5,388.8 463.8,382.5 470.0,365.0 472.5,356.2 482.5,352.5 491.2,356.2 492.5,368.8 526.2,352.5 527.0,336.2 527.0,323.8 525.0,307.5 524.5,294.5 544.5,292.5 548.8,317.0 568.8,317.5 566.2,330.0 570.0,336.2 592.5,358.8 619.0,351.2"/>
<polyline points="596.2,310.0 597.5,295.0 597.5,290.0"/>
<polyline points="409.5,386.2 390.0,388.8 388.8,395.0 397.5,402.5 411.2,403.8"/>
<polyline points="393.8,290.0 400.0,305.0 406.2,307.5 421.2,305.0 437.5,298.8 442.5,290.0"/>
<polyline points="421.2,305.0 435.0,300.5 446.2,306.2 450.5,317.0 448.8,325.0 446.2,333.8 427.5,332.5 423.8,317.5 421.2,305.0"/>
<polyline points="427.5,332.5 446.2,334.5 445.0,340.0 441.2,350.0 446.2,355.0 449.5,362.5 441.2,365.0 411.2,371.2 410.0,365.0 413.8,357.5 417.5,352.5 418.8,337.5 427.5,332.5"/>
<polyline points="397.5,331.2 392.5,360.0 410.0,355.5"/>
<polyline points="402.5,413.8 412.5,412.5 431.2,411.2"/>
<polyline points="395.0,431.2 431.2,447.0"/>
<polyline points="492.5,368.8 495.0,385.0 496.2,407.5 488.8,412.5 480.0,430.0 478.8,437.5"/>
<polyline points="496.2,407.5 510.0,412.5 522.5,415.0 530.0,435.0"/>
<polyline points="526.2,352.5 522.5,367.5 523.8,390.0 522.5,415.0"/>
<polyline points="527.0,352.5 550.0,349.5 572.5,346.2 586.2,353.8 592.5,358.8"/>
<polyline points="550.0,349.5 548.8,365.0 550.0,390.0 560.0,402.5 566.2,415.0 560.0,430.0"/>
<polyline points="560.0,350.0 565.0,360.0 572.5,372.5 575.0,390.0 577.5,405.0 587.5,412.5 592.5,425.0 600.0,440.0"/>
<polyline points="587.5,412.5 610.0,397.5 619.0,393.8"/>
<polyline points="360.0,436.2 370.0,440.0"/>
<polyline points="482.5,300.0 485.0,310.0 525.0,316.2"/>
<polyline points="485.0,310.0 470.0,337.5 446.2,333.8"/>
<polyline points="470.0,337.5 482.5,352.5"/>
<polyline points="436.2,397.5 441.2,395.0 467.5,403.8 477.5,400.0"/>
<polyline points="432.5,412.5 445.0,417.5 452.5,430.0"/>
<polyline points="375.0,382.5 387.5,400.0 402.5,413.8"/>
<polyline points="372.5,388.8 380.0,392.5 390.0,388.8"/>
<polyline points="756.2,290.0 755.0,300.0 758.8,312.5 770.0,317.5 778.8,321.2 782.0,336.2 785.0,327.5 787.5,323.8 823.8,322.0 821.2,301.2 839.0,300.0"/>
<polyline points="640.0,290.0 642.5,301.2 685.0,298.8 687.5,307.5 692.5,348.8 725.0,343.8 726.2,337.5 723.8,315.0 722.5,306.2 723.8,296.2 725.0,290.0"/>
<polyline points="722.5,307.5 740.0,308.8 755.0,313.8 770.0,317.5 778.8,321.2 782.0,336.2 777.5,340.0 772.0,352.5 726.2,360.0 718.8,346.2 725.0,343.8 726.2,337.5 723.8,315.0 722.5,307.5"/>
<polyline points="703.8,348.0 718.8,346.2 726.2,360.0 736.2,385.0 739.2,396.0 741.0,405.0 742.5,408.8 732.5,410.0 732.0,422.5 727.5,420.0 726.2,415.0 715.0,417.5 710.0,402.5 703.8,385.0 701.2,365.0 703.8,348.0"/>
<polyline points="726.2,360.0 772.0,352.5 773.8,360.0 772.5,367.5 773.8,372.5 765.0,376.2 760.0,385.0 766.2,395.0 770.0,407.5 770.0,413.8 755.0,416.2 752.5,411.2 747.5,413.8 742.5,408.8 741.0,405.0 739.2,396.0 736.2,385.0 726.2,360.0"/>
<polyline points="765.0,376.2 774.5,373.8 775.0,387.0 773.0,391.0 773.5,396.0 771.5,398.5 774.8,403.8 775.5,407.5 773.0,411.5 771.0,414.0 770.0,407.5 766.2,395.0 760.0,385.0 765.0,376.2"/>
<polyline points="787.5,323.8 826.2,322.0 828.8,347.5 822.5,367.0 773.8,367.2 772.5,360.0 772.0,352.5 777.5,340.0 782.0,336.2 785.0,327.5 787.5,323.8"/>
<polyline points="773.8,367.2 822.5,367.0 821.2,397.5 815.0,401.2 810.0,408.8 806.2,412.5 802.5,406.2 797.5,407.5 793.8,402.5 787.5,407.5 780.0,406.2 778.5,401.2 777.5,393.5 775.0,387.0 774.5,373.8 773.8,367.2"/>
<polyline points="597.5,309.5 622.5,306.2 626.2,317.5 625.0,322.5 631.2,340.0 635.0,350.0 591.2,358.8 580.0,348.8"/>
<polyline points="613.8,393.8 621.2,400.0 641.2,402.5 646.2,407.5 645.0,415.0 648.8,428.8 637.5,431.2 626.2,432.5 621.2,426.2 617.5,410.0 613.8,393.8"/>
<polyline points="642.5,301.2 633.8,297.5 630.0,305.0 622.5,306.2"/>
<polyline points="635.0,350.0 645.0,356.2 692.5,348.8"/>
<polyline points="645.0,356.2 646.2,367.5 662.5,376.2 665.0,390.0 668.8,397.5 705.0,385.0"/>
<polyline points="603.8,358.8 611.2,378.8 635.0,375.0 646.2,367.5"/>
<polyline points="611.2,378.8 613.8,393.8"/>
<polyline points="662.5,376.2 630.0,395.0 628.8,400.0"/>
<polyline points="668.8,397.5 675.0,405.0 676.2,412.5"/>
<polyline points="646.2,407.5 652.5,402.5 668.8,397.5"/>
<polyline points="857.5,290.0 860.0,306.2 821.2,301.2 823.8,322.0"/>
<polyline points="828.8,348.0 832.5,349.5 870.0,360.5 872.5,372.5 872.0,380.0 874.5,392.5 868.8,397.5 863.8,402.0 860.0,398.8 850.0,395.0 843.8,397.5 838.8,394.5 832.5,397.0 825.0,395.0 820.0,396.2 821.2,367.0 822.5,362.5 828.8,348.0"/>
<polyline points="860.0,306.2 887.0,311.2"/>
<polyline points="826.2,322.0 828.8,348.0"/>
<polyline points="183.8,496.2 215.0,478.8 222.5,492.5 226.2,510.0 231.2,512.5 228.8,520.0 227.5,530.0 233.8,541.2 232.5,546.2 226.2,551.2 227.5,556.2 224.5,558.8 222.5,555.0 217.5,551.2 212.5,556.2 208.8,542.5 202.5,530.0 183.8,496.2"/>
<polyline points="253.8,493.8 276.2,482.5 278.8,492.5 280.0,505.0 278.8,516.2 280.0,518.8 275.0,526.2 271.2,522.5 268.8,530.0 263.8,535.0 257.5,540.0 255.0,532.5 253.8,525.0 245.0,511.2 250.0,503.8 253.8,493.8"/>
<polyline points="298.8,467.5 306.2,463.8 320.0,453.8 325.0,461.2 331.2,453.8 341.2,466.2 342.0,476.2 341.0,483.8 339.2,493.8 334.0,504.5 325.0,509.5 320.0,506.2 315.0,502.5 312.5,497.5 305.0,485.0 298.8,467.5"/>
<polyline points="287.5,431.2 320.0,420.0 322.5,423.8 336.2,447.5 331.2,453.8 325.0,461.2 320.0,453.8 306.2,463.8 302.5,457.5 297.5,445.0 287.5,431.2"/>
<polyline points="331.2,453.8 336.2,455.0 357.5,457.5 363.8,458.8 366.2,470.0 365.0,482.5 363.8,483.8 360.0,486.2 347.5,493.8 340.0,498.8 334.0,504.5 339.2,493.8 341.0,483.8 342.0,476.2 341.2,466.2 331.2,453.8"/>
<polyline points="242.0,462.5 236.2,446.2 257.5,436.2 255.0,420.0"/>
<polyline points="257.5,436.2 263.8,440.0 287.5,431.2"/>
<polyline points="263.8,440.0 270.0,457.5 282.5,480.0 298.8,467.5"/>
<polyline points="242.0,462.5 246.2,477.5 248.8,487.5 253.8,493.8"/>
<polyline points="278.8,492.5 282.5,480.0"/>
<polyline points="231.2,512.5 245.0,511.2"/>
<polyline points="336.2,447.5 340.0,452.5 363.8,458.8"/>
<polyline points="371.2,440.0 372.5,450.0 363.8,458.8"/>
<polyline points="428.8,400.0 432.5,412.5 430.0,430.0 431.2,440.0 430.0,451.2 432.5,452.5 440.0,445.0 446.2,440.0 452.5,435.0 451.2,430.0 456.2,423.8 462.5,418.8 463.8,425.0 463.8,435.0 467.5,440.0 465.0,445.0 470.0,442.5 471.2,425.0 477.5,405.0 478.8,400.0"/>
<polyline points="392.5,437.5 387.5,447.5 385.0,460.0 385.0,470.0"/>
</g>
</g>
</svg>
<div class="legend"><div class="t">Legend</div>
<div class="r"><i style="background:#c4c4c4"></i>1. &lt;5 cases per 100,000 or &lt;5 reported cases</div>
<div class="r"><i style="background:#fee29b"></i>2. 5-9 cases per 100,000</div>
<div class="r"><i style="background:#fb8c00"></i>3. 10-14 cases per 100,000</div>
<div class="r"><i style="background:#ce1b1e"></i>4. 15 or more cases per 100,000</div>
</div>
<div class="zoom"><div>+</div><div>&#8722;</div></div>
<div class="note">Maps do not include data on congregate settings such as correctional facilities, and nursing homes.</div>
<div class="foot">Map: CT Department of Public Health &middot; <a>Get the data</a> &middot; Created with <a>Datawrapper</a></div>
</body></html>
